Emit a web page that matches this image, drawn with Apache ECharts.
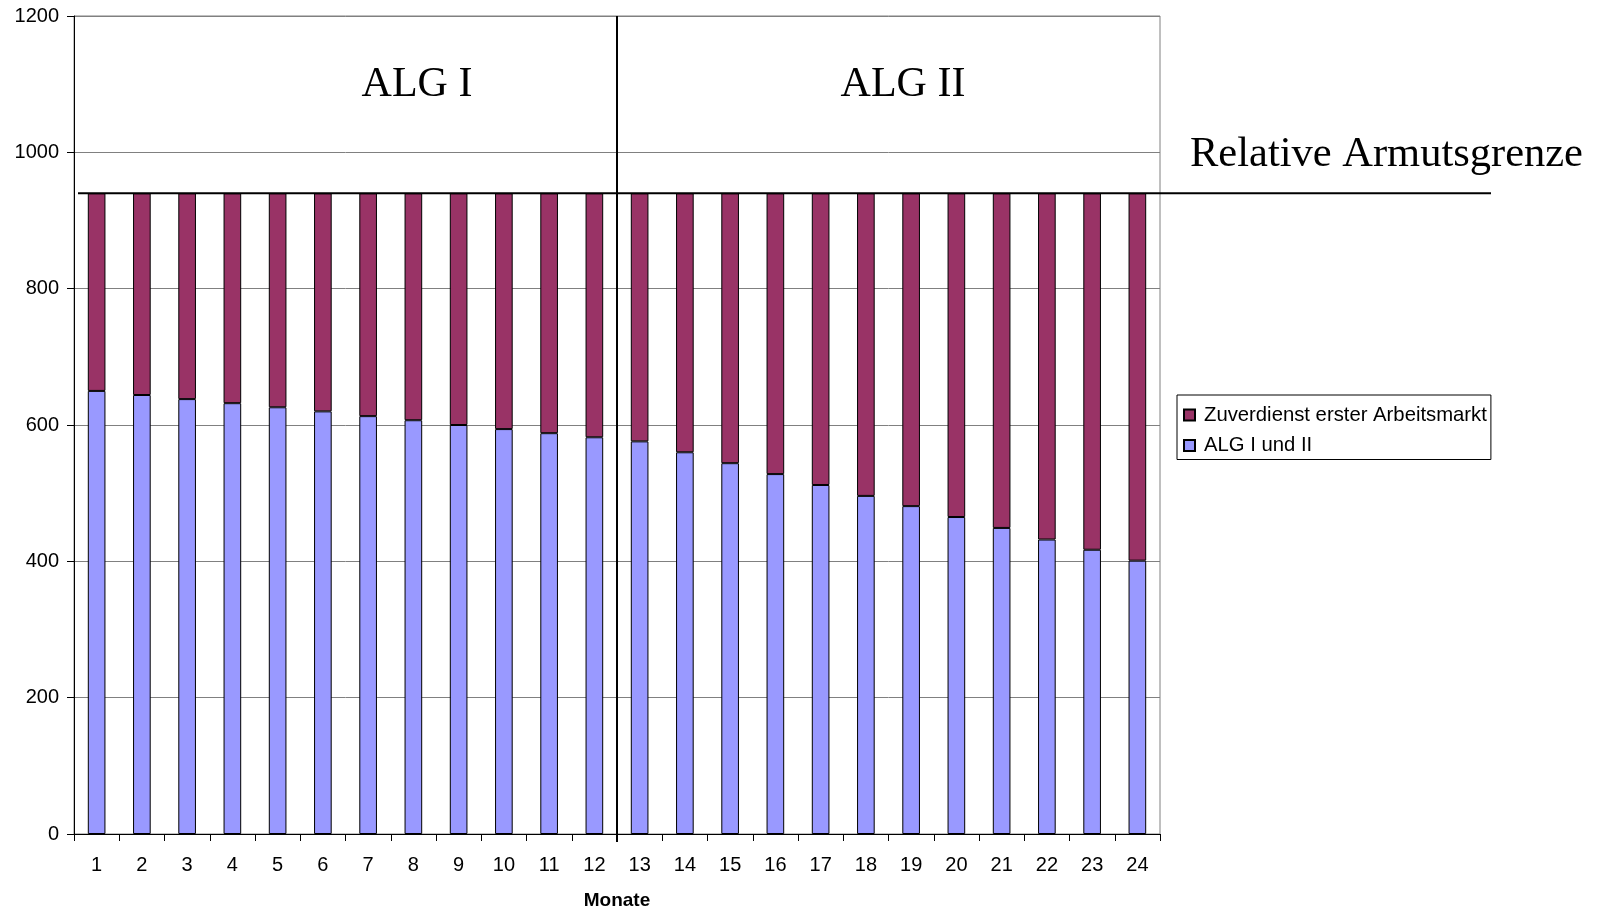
<!DOCTYPE html>
<html><head><meta charset="utf-8">
<script src="https://cdn.jsdelivr.net/npm/echarts@6/dist/echarts.min.js"></script>
<style>html,body{margin:0;padding:0;background:#fff}#c{width:1602px;height:915px}</style>
</head><body><div id="c"></div>
<script>
const months = ['1','2','3','4','5','6','7','8','9','10','11','12','13','14','15','16','17','18','19','20','21','22','23','24'];
const algValues = [650, 644, 638, 632, 626, 620, 613, 607, 600, 594, 588, 582, 576, 560, 544, 528, 512, 496, 481, 465, 449, 432, 417, 401];
const zuverdienstValues = [290, 296, 302, 308, 314, 320, 327, 333, 340, 346, 352, 358, 364, 380, 396, 412, 428, 444, 459, 475, 491, 508, 523, 539];
const povertyLine = 940;
const yMin = 0, yMax = 1200, yStep = 200;
const sectionLabels = ['ALG I', 'ALG II'];
const povertyLabel = 'Relative Armutsgrenze';
const algName = 'ALG I und II';
const zuName = 'Zuverdienst erster Arbeitsmarkt';
const xAxisName = 'Monate';

const SANS = '"Liberation Sans", Arial, sans-serif';
const SERIF = '"Liberation Serif", "Times New Roman", serif';
const chart = echarts.init(document.getElementById('c'));
chart.setOption({
  animation: false,
  backgroundColor: '#fff',
  grid: {left: 74, right: 442, top: 16, bottom: 77, show: true, borderColor: '#808080', borderWidth: 1},
  legend: {
    orient: 'vertical', left: 1177, top: 395,
    data: [zuName, algName],
    borderColor: '#000', borderWidth: 1, borderRadius: 0,
    padding: [10, 4, 4, 6],
    itemWidth: 11, itemHeight: 11, itemGap: 10.5,
    icon: 'rect',
    textStyle: {fontFamily: SANS, fontSize: 20.3, color: '#000', lineHeight: 20, padding: [0, 0, 0, 4]}
  },
  xAxis: {
    type: 'category', data: months,
    axisLine: {lineStyle: {color: '#000', width: 1}},
    axisTick: {show: true, length: 7, interval: 0, lineStyle: {color: '#000'}},
    axisLabel: {fontFamily: SANS, fontSize: 20, color: '#000', margin: 21, interval: 0},
    name: xAxisName, nameLocation: 'middle', nameGap: 57,
    nameTextStyle: {fontFamily: SANS, fontSize: 19, fontWeight: 'bold', color: '#000'}
  },
  yAxis: {
    type: 'value', min: yMin, max: yMax, interval: yStep,
    axisLine: {show: true, lineStyle: {color: '#000', width: 1}},
    axisTick: {show: true, length: 7, lineStyle: {color: '#000'}},
    axisLabel: {fontFamily: SANS, fontSize: 20, color: '#000', margin: 15, formatter: v => String(v)},
    splitLine: {lineStyle: {color: '#808080', width: 1}}
  },
  series: [
    {name: algName, type: 'bar', stack: 'total', data: algValues, barWidth: '39%',
     itemStyle: {color: '#9999FF', borderColor: '#000', borderWidth: 1}},
    {name: zuName, type: 'bar', stack: 'total', data: zuverdienstValues, barWidth: '39%',
     itemStyle: {color: '#993366', borderColor: '#000', borderWidth: 1}}
  ]
});

const yLine = chart.convertToPixel({yAxisIndex: 0}, povertyLine);
const yTop = chart.convertToPixel({yAxisIndex: 0}, yMax);
const y0 = chart.convertToPixel({yAxisIndex: 0}, yMin);
const xSep = (chart.convertToPixel({xAxisIndex: 0}, months[11]) + chart.convertToPixel({xAxisIndex: 0}, months[12])) / 2;
chart.setOption({
  graphic: [
    {type: 'line', z: 100, shape: {x1: 78, y1: yLine, x2: 1491, y2: yLine}, style: {stroke: '#000', lineWidth: 2}},
    {type: 'line', z: 100, shape: {x1: xSep, y1: yTop, x2: xSep, y2: y0 + 8}, style: {stroke: '#000', lineWidth: 2}},
    {type: 'text', z: 100, x: 417, y: 85, style: {text: sectionLabels[0], font: '42px ' + SERIF, fill: '#000', align: 'center', verticalAlign: 'middle'}},
    {type: 'text', z: 100, x: 903, y: 85, style: {text: sectionLabels[1], font: '42px ' + SERIF, fill: '#000', align: 'center', verticalAlign: 'middle'}},
    {type: 'text', z: 100, x: 1190, y: 155, style: {text: povertyLabel, font: '42.5px ' + SERIF, fill: '#000', align: 'left', verticalAlign: 'middle'}}
  ]
});
</script></body></html>
